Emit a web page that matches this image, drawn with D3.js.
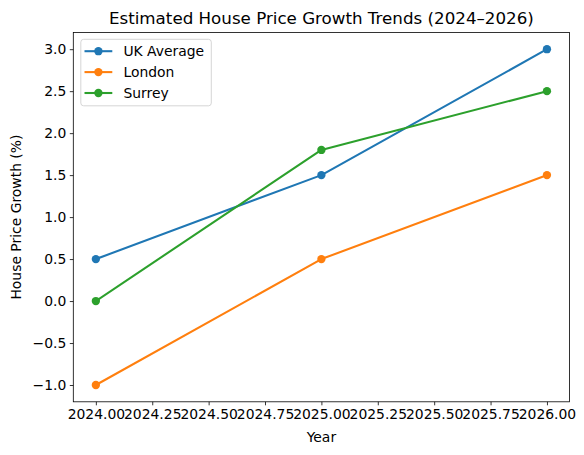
<!DOCTYPE html>
<html><head><meta charset="utf-8">
<script src="https://cdn.jsdelivr.net/npm/d3@7"></script>
<style>body{margin:0;background:#fff}svg{display:block}text{font-family:"DejaVu Sans",sans-serif;fill:#000}</style>
</head><body>
<script>
const years = [2024, 2025, 2026];
const ukAverage = [0.5, 1.5, 3.0];
const london = [-1.0, 0.5, 1.5];
const surrey = [0.0, 1.8, 2.5];
const seriesNames = ["UK Average", "London", "Surrey"];
const seriesColors = ["#1f77b4", "#ff7f0e", "#2ca02c"];
const xTicks = [2024, 2024.25, 2024.5, 2024.75, 2025, 2025.25, 2025.5, 2025.75, 2026];
const yTicks = [-1.0, -0.5, 0.0, 0.5, 1.0, 1.5, 2.0, 2.5, 3.0];

const W = 584, H = 455;
const m = {left: 73.3, right: 569.5, top: 32.4, bottom: 401.8};
const svg = d3.select("body").append("svg").attr("width", W).attr("height", H);

const x = d3.scaleLinear().domain([2023.9, 2026.1]).range([m.left, m.right]);
const y = d3.scaleLinear().domain([-1.2, 3.2]).range([m.bottom, m.top]);
const fmtY = v => d3.format(".1f")(v).replace("-", "\u2212");

const series = [ukAverage, london, surrey].map((vals, i) => ({
  name: seriesNames[i], color: seriesColors[i],
  pts: years.map((yr, j) => ({x: yr, y: vals[j]}))
}));

// axes
const xAxis = svg.append("g").attr("transform", `translate(0,${m.bottom})`)
  .call(d3.axisBottom(x).tickValues(xTicks).tickFormat(d3.format(".2f")).tickSizeOuter(0).tickSize(3.5).tickPadding(3.5));
const yAxis = svg.append("g").attr("transform", `translate(${m.left},0)`)
  .call(d3.axisLeft(y).tickValues(yTicks).tickFormat(fmtY).tickSizeOuter(0).tickSize(3.5).tickPadding(3.5));
[xAxis, yAxis].forEach(g => {
  g.select(".domain").remove();
  g.selectAll("line").attr("stroke", "#000").attr("stroke-width", 0.8);
  g.selectAll("text").attr("font-size", 13.9).attr("font-family", "DejaVu Sans").attr("fill", "#000");
});
xAxis.selectAll("text").attr("dy", "0.71em");

// lines & markers
const line = d3.line().x(d => x(d.x)).y(d => y(d.y));
series.forEach(s => {
  svg.append("path").datum(s.pts).attr("d", line).attr("fill", "none")
    .attr("stroke", s.color).attr("stroke-width", 2.08).attr("stroke-linejoin", "round").attr("stroke-linecap", "square");
  svg.selectAll(null).data(s.pts).enter().append("circle")
    .attr("cx", d => x(d.x)).attr("cy", d => y(d.y)).attr("r", 4.17).attr("fill", s.color);
});

// frame
svg.append("rect").attr("x", m.left).attr("y", m.top).attr("width", m.right - m.left).attr("height", m.bottom - m.top)
  .attr("fill", "none").attr("stroke", "#000").attr("stroke-width", 0.8);

// title & labels
svg.append("text").attr("x", (m.left + m.right) / 2).attr("y", 23.5).attr("text-anchor", "middle")
  .attr("font-size", 16.7).text("Estimated House Price Growth Trends (2024\u20132026)");
svg.append("text").attr("x", (m.left + m.right) / 2).attr("y", 442).attr("text-anchor", "middle")
  .attr("font-size", 13.9).text("Year");
svg.append("text").attr("transform", `translate(21,${(m.top + m.bottom) / 2}) rotate(-90)`).attr("text-anchor", "middle")
  .attr("font-size", 13.9).text("House Price Growth (%)");

// legend
const lg = svg.append("g");
lg.append("rect").attr("x", 80.8).attr("y", 39.3).attr("width", 130.5).attr("height", 66.5).attr("rx", 2.8)
  .attr("fill", "#fff").attr("fill-opacity", 0.8).attr("stroke", "#ccc").attr("stroke-width", 0.8);
series.forEach((s, i) => {
  const cy = 51.2 + i * 20.9;
  lg.append("line").attr("x1", 84.5).attr("x2", 112.3).attr("y1", cy).attr("y2", cy)
    .attr("stroke", s.color).attr("stroke-width", 2.08);
  lg.append("circle").attr("cx", 98.4).attr("cy", cy).attr("r", 4.17).attr("fill", s.color);
  lg.append("text").attr("x", 123.4).attr("y", cy).attr("dy", "0.36em").attr("font-size", 13.9).text(s.name);
});
</script>
</body></html>
